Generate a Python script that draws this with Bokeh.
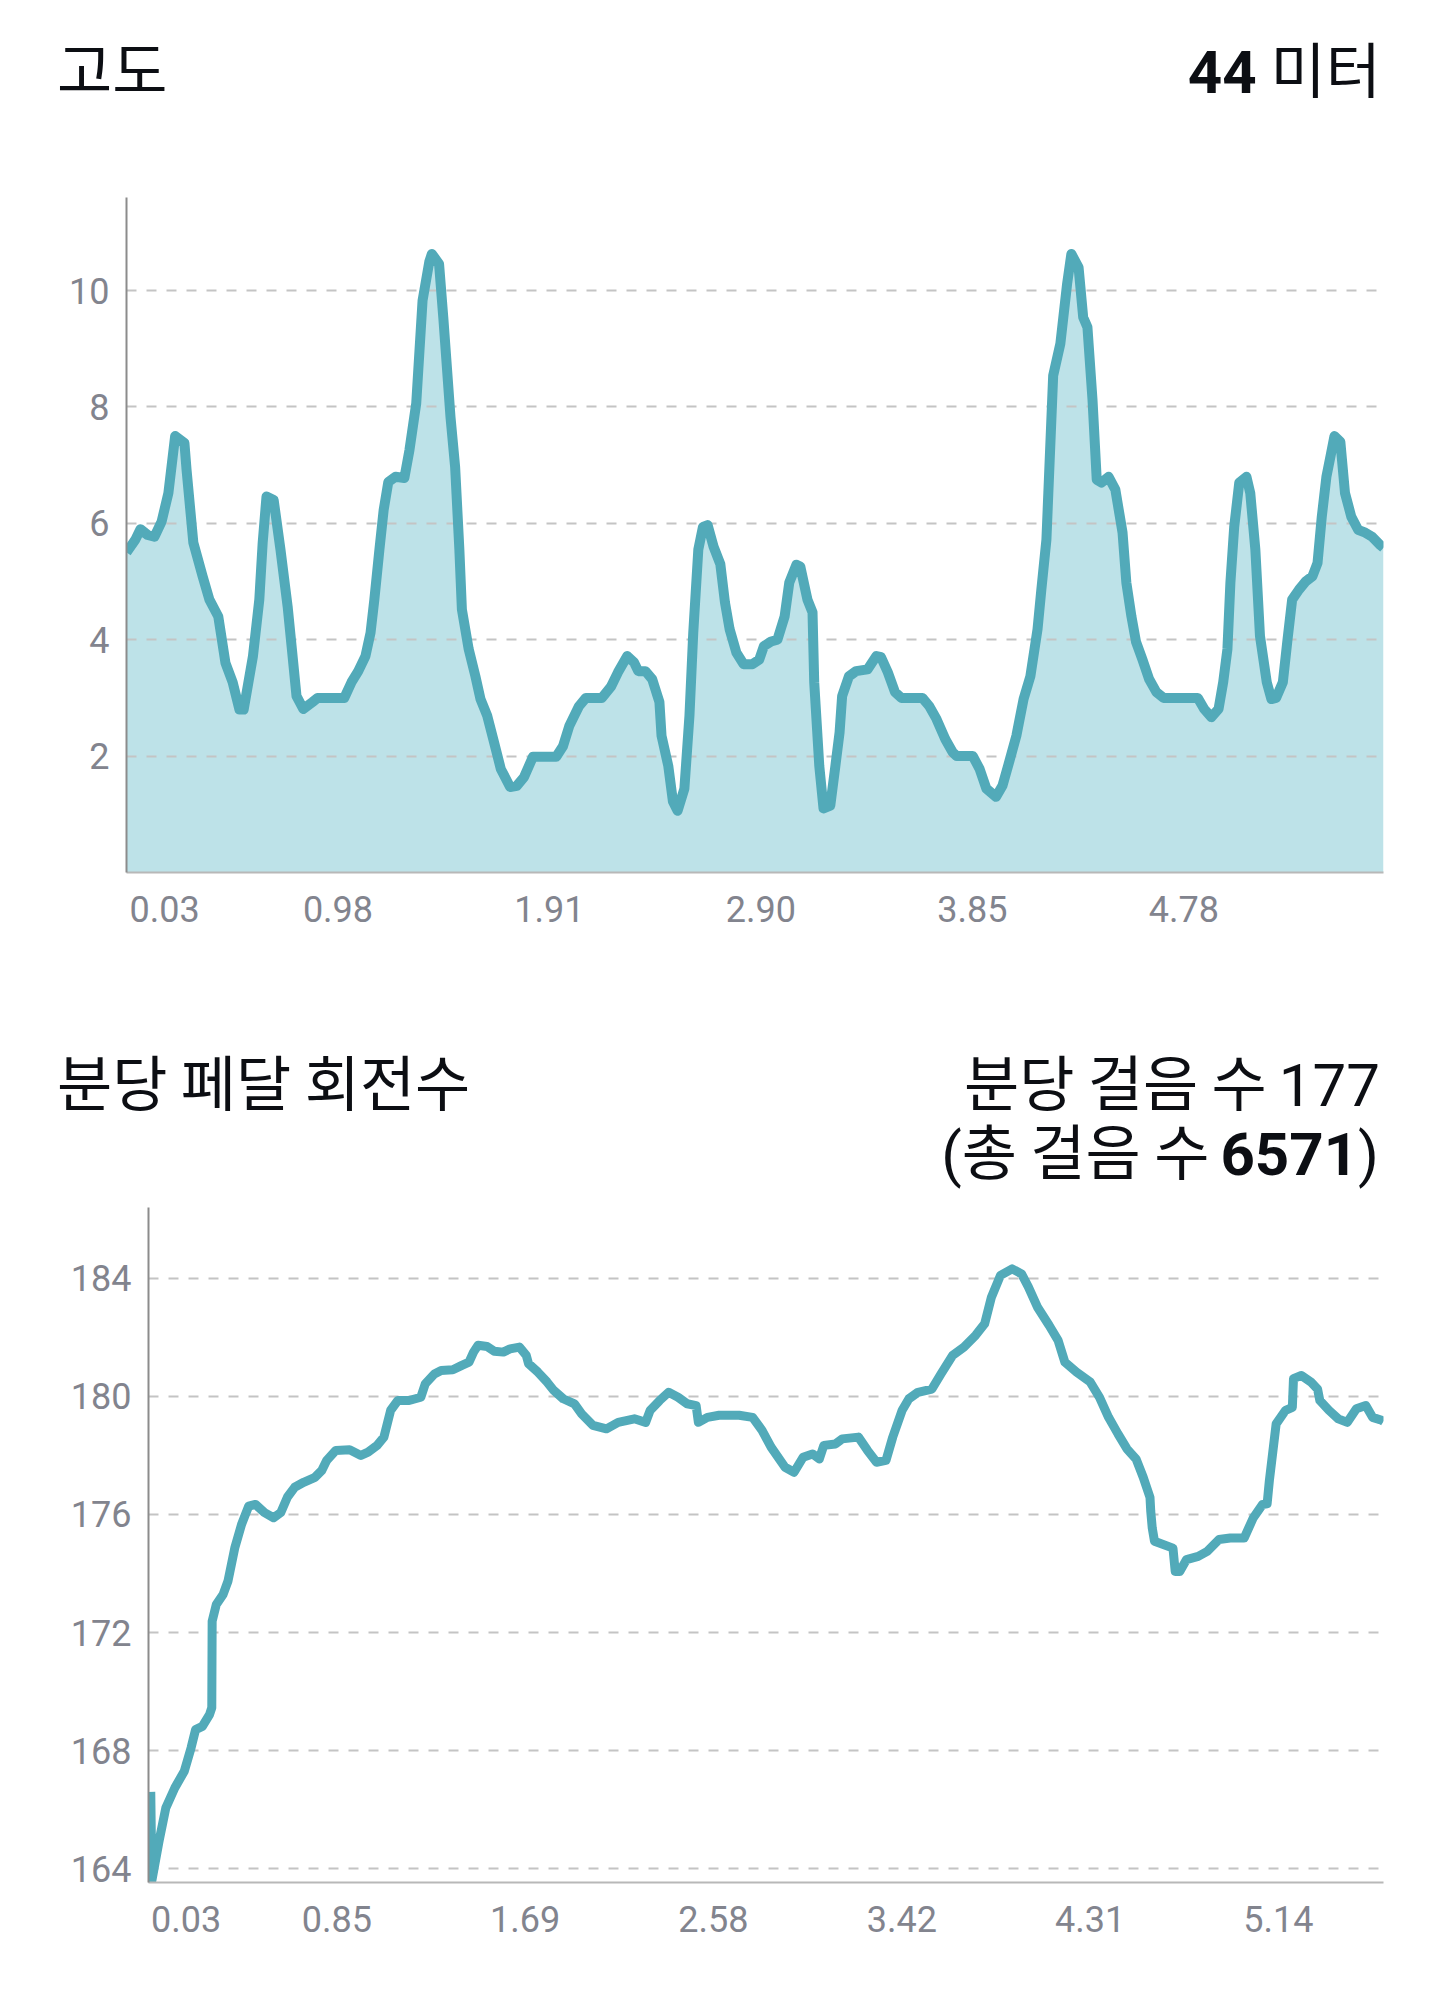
from bokeh.plotting import figure
from bokeh.layouts import column, row
from bokeh.models import Range1d, FixedTicker, Spacer, Div
from bokeh.embed import file_html
from bokeh.resources import INLINE

# ---------------- data: elevation (고도) ----------------
elev_idx = [
    0, 2.1, 3.3, 5.0, 6.6, 8.3, 9.9, 11.5, 13.7, 14.2,
    15.8, 18.0, 19.6, 21.7, 23.4, 25.1, 26.7, 27.7, 29.9, 31.4,
    32.2, 33.1, 34.8, 36.4, 38.1, 39.1, 40.2, 41.8, 44.0, 45.2,
    51.5, 53.2, 54.8, 56.5, 57.7, 58.6, 59.8, 60.8, 61.9, 63.6,
    65.7, 66.9, 68.5, 70.0, 71.6, 72.2, 73.9, 74.9, 76.6, 77.7,
    78.7, 79.3, 80.9, 82.5, 83.7, 85.3, 86.9, 88.5, 90.7, 92.3,
    94.0, 96.1, 101.6, 103.2, 104.7, 107.0, 108.6, 112.4, 114.6, 116.2,
    118.4, 120.0, 121.0, 122.7, 124.3, 126.0, 126.5, 128.1, 129.2, 130.3,
    131.9, 133.1, 134.0, 135.2, 136.3, 137.4, 138.8, 140.4, 141.5, 142.6,
    144.2, 145.9, 148.0, 149.6, 150.7, 152.4, 153.9, 155.6, 156.7, 158.4,
    159.3, 161.0, 162.2, 162.6, 163.8, 164.8, 166.4, 167.6, 168.6, 169.2,
    170.8, 172.5, 175.2, 177.3, 178.4, 180.0, 181.7, 183.2, 188.2, 189.8,
    191.5, 193.6, 195.3, 196.3, 200.1, 201.7, 203.3, 205.6, 207.1, 208.7,
    210.4, 212.1, 213.7, 215.4, 216.3, 217.5, 219.1, 220.8, 222.4, 223.4,
    225.1, 226.2, 227.2, 228.4, 229.4, 230.5, 232.2, 233.8, 235.5, 236.4,
    237.6, 238.7, 240.2, 241.8, 243.5, 245.2, 253.3, 254.8, 256.5, 258.2,
    259.3, 260.3, 261.0, 261.9, 263.1, 264.8, 265.7, 266.9, 268.0, 269.6,
    270.7, 271.8, 273.4, 274.5, 275.6, 277.2, 278.8, 280.4, 281.6, 282.6,
    283.7, 284.8, 285.6, 287.0, 288.1, 289.6, 291.2, 292.9, 294.5, 296.4,
    297.2,
]
elev_m = [
    5.5, 5.72, 5.9, 5.8, 5.77, 6.03, 6.52, 7.5, 7.38, 6.92,
    5.67, 5.09, 4.69, 4.4, 3.6, 3.27, 2.8, 2.8, 3.72, 4.69,
    5.67, 6.46, 6.4, 5.55, 4.57, 3.84, 3.03, 2.81, 2.93, 3.0,
    3.0, 3.27, 3.46, 3.72, 4.12, 4.69, 5.55, 6.23, 6.71, 6.8,
    6.78, 7.26, 8.06, 9.83, 10.5, 10.63, 10.46, 9.54, 7.83, 6.97,
    5.55, 4.52, 3.84, 3.37, 2.98, 2.69, 2.24, 1.78, 1.47, 1.49,
    1.64, 1.99, 1.99, 2.17, 2.52, 2.86, 3.0, 3.0, 3.2, 3.44,
    3.72, 3.61, 3.46, 3.46, 3.32, 2.93, 2.35, 1.83, 1.22, 1.06,
    1.44, 2.69, 4.12, 5.55, 5.94, 5.97, 5.6, 5.3, 4.64, 4.18,
    3.78, 3.58, 3.58, 3.66, 3.89, 3.97, 4.0, 4.4, 4.98, 5.29,
    5.26, 4.69, 4.47, 3.27, 1.83, 1.1, 1.15, 1.83, 2.41, 3.03,
    3.37, 3.46, 3.49, 3.72, 3.7, 3.44, 3.1, 3.0, 3.0, 2.86,
    2.64, 2.29, 2.07, 2.0, 2.0, 1.78, 1.44, 1.3, 1.49, 1.9,
    2.35, 2.98, 3.37, 4.18, 4.86, 5.72, 8.54, 9.09, 10.12, 10.63,
    10.4, 9.54, 9.37, 8.12, 6.75, 6.7, 6.8, 6.58, 5.84, 4.98,
    4.4, 3.96, 3.66, 3.32, 3.1, 3.0, 3.0, 2.81, 2.67, 2.81,
    3.27, 3.84, 4.98, 5.94, 6.7, 6.8, 6.52, 5.55, 4.06, 3.27,
    2.98, 3.0, 3.27, 4.0, 4.69, 4.86, 5.0, 5.09, 5.32, 6.11,
    6.8, 7.2, 7.5, 7.4, 6.52, 6.11, 5.89, 5.84, 5.77, 5.63,
    5.58,
]
elev_tick_pos = [9, 50, 100, 150, 200, 250]
elev_tick_labels = ["0.03", "0.98", "1.91", "2.90", "3.85", "4.78"]
elev_yticks = [2, 4, 6, 8, 10]

# ---------------- data: cadence (분당 페달 회전수) ----------------
cad_idx = [
    0.6, 0.9, 2.8, 4.6, 7.0, 9.5, 11.3, 12.5, 14.3, 16.2,
    16.8, 16.9, 18.0, 19.8, 21.1, 22.9, 24.7, 26.6, 28.4, 30.8,
    33.2, 35.1, 36.9, 38.8, 41.2, 44.2, 46.0, 47.3, 49.7, 53.4,
    56.4, 58.3, 60.7, 62.5, 64.3, 66.2, 69.2, 72.3, 73.5, 75.9,
    77.7, 80.8, 83.2, 85.1, 86.3, 87.5, 89.9, 91.8, 94.2, 96.0,
    98.5, 100.3, 100.9, 103.4, 105.8, 107.6, 110.1, 113.1, 115.0, 118.0,
    121.6, 124.7, 129.0, 132.0, 133.2, 135.7, 138.1, 140.6, 143.0, 145.4,
    146.0, 148.4, 151.5, 156.8, 160.4, 162.9, 165.3, 169.0, 171.4, 173.8,
    176.3, 178.1, 179.3, 182.4, 184.2, 188.5, 190.9, 193.3, 195.8, 197.6,
    200.1, 201.9, 204.3, 208.0, 210.4, 213.5, 216.5, 219.6, 222.0, 223.8,
    226.2, 229.3, 231.8, 233.6, 236.0, 239.1, 241.5, 243.3, 246.4, 250.0,
    252.5, 254.9, 257.4, 259.8, 262.2, 264.1, 265.9, 266.1, 266.5, 267.1,
    272.0, 272.6, 273.8, 275.6, 278.7, 281.1, 284.2, 287.2, 290.9, 293.3,
    295.8, 297.0, 297.6, 299.4, 301.9, 303.7, 304.0, 306.1, 308.6, 310.4,
    311.0, 313.4, 315.9, 318.3, 320.7, 323.2, 325.0, 327.4, 327.9,
]
cad_spm = [
    166.6, 163.6, 164.93, 166.06, 166.74, 167.3, 168.09, 168.71, 168.82, 169.22,
    169.45, 172.38, 172.95, 173.29, 173.74, 174.86, 175.66, 176.28, 176.34, 176.06,
    175.89, 176.06, 176.59, 176.92, 177.09, 177.26, 177.49, 177.83, 178.17, 178.19,
    178.0, 178.11, 178.34, 178.62, 179.53, 179.86, 179.86, 179.97, 180.43, 180.76,
    180.88, 180.9, 181.05, 181.16, 181.5, 181.73, 181.69, 181.53, 181.5, 181.61,
    181.67, 181.39, 181.11, 180.82, 180.49, 180.2, 179.92, 179.75, 179.41, 179.02,
    178.9, 179.12, 179.24, 179.12, 179.53, 179.86, 180.14, 179.97, 179.75, 179.69,
    179.12, 179.29, 179.36, 179.36, 179.29, 178.85, 178.28, 177.6, 177.43, 177.94,
    178.05, 177.88, 178.34, 178.39, 178.56, 178.62, 178.17, 177.77, 177.83, 178.62,
    179.53, 179.92, 180.14, 180.25, 180.76, 181.39, 181.67, 182.07, 182.46, 183.36,
    184.1, 184.32, 184.15, 183.71, 183.03, 182.41, 181.9, 181.16, 180.82, 180.49,
    179.97, 179.29, 178.73, 178.22, 177.88, 177.26, 176.58, 176.11, 175.54, 175.09,
    174.86, 174.07, 174.07, 174.47, 174.58, 174.75, 175.15, 175.2, 175.2, 175.88,
    176.34, 176.36, 177.15, 179.07, 179.53, 179.63, 180.6, 180.71, 180.49, 180.25,
    179.86, 179.53, 179.24, 179.12, 179.58, 179.69, 179.29, 179.19, 179.15,
]
cad_tick_pos = [10, 50, 100, 150, 200, 250, 300]
cad_tick_labels = ["0.03", "0.85", "1.69", "2.58", "3.42", "4.31", "5.14"]
cad_yticks = [164, 168, 172, 176, 180, 184]

# ---------------- header texts ----------------
elev_title = "고도"
elev_total_value, elev_total_unit = "44", "미터"
cad_title = "분당 페달 회전수"
cad_rate_label, cad_rate_value = "분당 걸음 수", "177"
cad_total_label, cad_total_value = "총 걸음 수", "6571"

# ---------------- styles ----------------
LINE = "#52aab9"
FILL = "#bde2e8"
TICK = "#82848e"
INK = "#0c0e13"
BL, BR, BB = 126, 57, 68  # identical side borders for both charts

KR_CSS = "font-family:'Noto Sans CJK KR';font-size:60px;font-weight:400;"
RB_CSS = "font-family:Roboto;font-size:60px;"
BOX_CSS = "display:inline-block;line-height:60px;height:60px;vertical-align:baseline;"


def kr(t, extra=""):
    return f'<span style="{KR_CSS}{BOX_CSS}{extra}">{t}</span>'


def rb(t, weight=400, extra=""):
    return f'<span style="{RB_CSS}{BOX_CSS}font-weight:{weight};{extra}">{t}</span>'


def line_box(content, top, left=None, right=None):
    pos = f"left:{left}px;" if left is not None else f"right:{right}px;"
    return (f'<div style="position:absolute;{pos}top:{top}px;white-space:nowrap;'
            f'{KR_CSS}line-height:1;color:{INK};">{content}</div>')


def header(height, boxes):
    html = (f'<div style="position:relative;width:1440px;height:{height}px;'
            f'margin:0;padding:0;">' + "".join(boxes) + '</div>')
    return Div(text=html, width=1440, height=height, margin=0)


def style_chart(p, tick_pos, tick_labels, yticks):
    p.outline_line_color = None
    p.xgrid.visible = False
    p.ygrid.grid_line_dash = "10 10"
    p.ygrid.grid_line_color = "#c4c4c4"
    p.ygrid.grid_line_width = 2
    p.xaxis.ticker = FixedTicker(ticks=tick_pos)
    p.xaxis.major_label_overrides = dict(zip(tick_pos, tick_labels))
    p.yaxis.ticker = FixedTicker(ticks=yticks)
    for ax in (p.xaxis, p.yaxis):
        ax.major_tick_line_color = None
        ax.minor_tick_line_color = None
        ax.major_tick_out = 0
        ax.major_tick_in = 0
        ax.minor_tick_out = 0
        ax.minor_tick_in = 0
        ax.major_label_text_font = "Roboto"
        ax.major_label_text_font_size = "36px"
        ax.major_label_text_color = TICK
    p.yaxis.axis_line_color = "#8c8c8c"
    p.yaxis.axis_line_width = 2
    p.xaxis.axis_line_color = "#b8b8b8"
    p.xaxis.axis_line_width = 2
    p.yaxis.major_label_standoff = 17
    p.xaxis.major_label_standoff = 23


# ---------------- header 1 (page y 0..150) ----------------
h1 = header(150, [
    line_box(kr(elev_title), top=37, left=57),
    line_box(rb(elev_total_value, 700) + kr(elev_total_unit, "margin-left:14px;"), top=37, right=59),
])

# ---------------- chart 1 : 고도 (page y 150..940) ----------------
p1 = figure(width=1440, height=790, x_range=Range1d(0, 297.2), y_range=Range1d(0, 11.6),
            toolbar_location=None, output_backend="svg",
            min_border_left=BL, min_border_right=BR, min_border_top=47, min_border_bottom=BB)
style_chart(p1, elev_tick_pos, elev_tick_labels, elev_yticks)
p1.varea(x=elev_idx, y1=0, y2=elev_m, fill_color=FILL, level="image")
p1.line(elev_idx, elev_m, line_color=LINE, line_width=10, line_join="round")

# ---------------- header 2 (page y 940..1200) ----------------
h2 = header(260, [
    line_box(kr(cad_title), top=110, left=57),
    line_box(kr(cad_rate_label) + rb(cad_rate_value, 400, "margin-left:12px;"), top=110, right=60),
    line_box(rb("(") + kr(cad_total_label) + rb(cad_total_value, 700, "margin-left:11px;") + rb(")"),
             top=179, right=61),
])

# ---------------- chart 2 : 분당 페달 회전수 (page y 1200..1950) ----------------
p2 = figure(width=1418, height=750, x_range=Range1d(0, 327.9), y_range=Range1d(163.53, 186.4),
            toolbar_location=None, output_backend="svg",
            min_border_left=BL, min_border_right=BR, min_border_top=7, min_border_bottom=BB)
style_chart(p2, cad_tick_pos, cad_tick_labels, cad_yticks)
p2.line(cad_idx, cad_spm, line_color=LINE, line_width=9, line_join="round")

layout = column(h1, p1, h2, row(Spacer(width=22, height=10), p2, spacing=0), spacing=0)
open("out.html", "w").write(file_html(layout, INLINE))
